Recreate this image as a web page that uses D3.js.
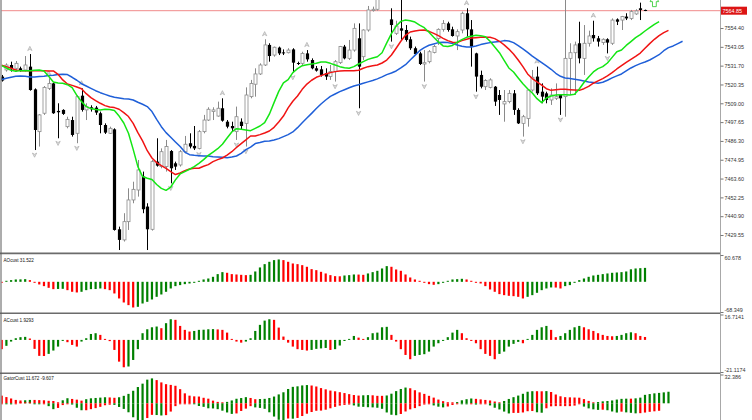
<!DOCTYPE html>
<html><head><meta charset="utf-8">
<script src="https://cdn.jsdelivr.net/npm/d3@7"></script>
<style>html,body{margin:0;padding:0;background:#fff}svg{display:block}</style>
</head><body>
<svg id="chart" width="752" height="420"></svg>
<script>
// ---------- DATA ----------
const opens=[7525.1,7529.1,7532.1,7530.1,7530.1,7529.1,7531.1,7517.4,7491.9,7503.0,
 7518.0,7521.0,7504.4,7505.0,7494.9,7498.9,7490.9,7513.6,7505.0,7506.6,
 7506.4,7503.0,7495.9,7490.9,7493.3,7433.0,7426.6,7437.6,7450.7,7456.7,
 7464.8,7446.7,7433.0,7473.8,7470.8,7470.8,7480.2,7472.8,7471.8,7479.8,
 7484.9,7483.3,7481.8,7491.9,7498.9,7504.0,7501.3,7506.0,7497.9,7495.3,
 7491.9,7497.9,7496.9,7513.0,7520.5,7526.7,7532.1,7544.2,7538.1,7542.6,
 7539.7,7539.5,7541.5,7533.3,7533.1,7539.1,7535.1,7530.1,7529.5,7527.1,
 7525.1,7528.1,7533.5,7543.2,7536.1,7541.1,7548.2,7537.1,7553.2,7564.9,
 7565.7,7572.0,7579.0,7559.6,7551.2,7554.2,7553.2,7547.6,7542.2,7539.1,
 7532.7,7534.1,7539.7,7548.0,7553.6,7557.2,7553.6,7549.6,7553.2,7563.3,
 7553.6,7539.1,7526.1,7519.0,7518.6,7519.0,7514.0,7508.6,7510.0,7515.0,
 7505.0,7496.9,7499.9,7517.0,7525.1,7516.0,7515.0,7511.0,7512.0,7514.0,
 7513.0,7536.1,7539.5,7545.2,7536.1,7545.2,7550.2,7548.2,7545.6,7547.6,
 7545.2,7559.6,7559.2,7561.3,7560.2,7562.9,7566.3,7565.3];
const highs=[7526.1,7533.1,7534.1,7534.5,7531.1,7537.5,7538.7,7518.0,7502.5,7519.4,
 7524.1,7521.4,7509.0,7505.4,7500.9,7500.9,7514.0,7518.0,7509.0,7507.8,
 7507.4,7504.0,7496.9,7494.9,7493.9,7434.6,7442.7,7457.7,7461.7,7474.8,
 7467.8,7448.7,7474.8,7487.9,7481.8,7486.9,7480.8,7473.8,7480.8,7489.3,
 7490.9,7495.3,7492.9,7502.0,7506.6,7506.6,7510.0,7512.0,7498.9,7497.9,
 7507.0,7499.9,7518.6,7523.1,7530.1,7533.1,7547.6,7545.2,7543.2,7543.2,
 7541.5,7542.2,7542.2,7534.1,7540.1,7541.1,7536.1,7531.5,7531.5,7530.1,
 7532.1,7535.1,7543.6,7544.2,7547.2,7557.2,7557.2,7553.6,7567.7,7567.3,
 7574.3,7582.0,7583.0,7566.3,7558.8,7576.0,7556.2,7549.2,7543.2,7540.1,
 7541.1,7541.1,7544.2,7554.2,7559.2,7558.2,7555.2,7553.6,7564.3,7566.3,
 7559.2,7539.5,7528.7,7523.5,7524.1,7519.4,7517.0,7517.0,7517.0,7517.0,
 7506.0,7502.0,7517.4,7529.1,7531.1,7521.0,7516.0,7518.0,7521.0,7514.4,
 7575.0,7545.2,7546.2,7558.2,7556.2,7552.8,7558.8,7549.6,7548.2,7548.2,
 7560.2,7560.2,7561.7,7563.3,7565.3,7565.7,7569.7,7565.5];
const lows=[7522.1,7528.1,7528.1,7528.1,7528.1,7528.1,7516.6,7480.8,7482.9,7502.0,
 7517.0,7502.6,7487.9,7502.0,7493.9,7488.9,7484.9,7504.0,7498.9,7504.0,
 7502.0,7490.9,7490.5,7490.5,7432.2,7420.5,7425.6,7432.6,7448.7,7452.7,
 7442.7,7420.5,7432.2,7470.8,7469.8,7467.8,7460.7,7468.8,7470.8,7478.8,
 7481.8,7480.8,7481.2,7490.9,7498.3,7498.9,7500.9,7497.9,7493.9,7491.9,
 7486.9,7492.9,7482.9,7512.0,7513.0,7526.1,7531.5,7534.1,7537.1,7538.1,
 7538.1,7539.1,7527.5,7532.1,7532.1,7534.1,7529.5,7528.1,7525.1,7523.1,
 7523.1,7522.1,7532.7,7535.5,7535.1,7540.1,7506.0,7535.1,7552.2,7564.3,
 7564.9,7571.5,7572.0,7546.2,7550.2,7547.2,7546.2,7541.2,7538.1,7532.1,
 7522.1,7533.1,7539.1,7544.2,7552.2,7552.2,7549.2,7541.1,7551.2,7549.2,
 7531.1,7516.0,7518.0,7517.0,7518.0,7507.4,7502.0,7497.9,7509.0,7502.0,
 7496.5,7488.9,7494.9,7516.0,7514.0,7509.0,7509.0,7508.0,7511.0,7502.0,
 7500.9,7514.0,7514.0,7533.1,7526.1,7543.2,7546.2,7543.2,7544.2,7539.1,
 7544.2,7556.2,7553.2,7559.2,7559.2,7562.3,7559.2,7564.6];
const closes=[7522.7,7532.1,7530.1,7533.1,7528.7,7532.1,7517.0,7492.9,7502.0,7518.6,
 7521.0,7503.0,7503.6,7502.6,7499.3,7489.9,7513.0,7505.0,7507.0,7505.4,
 7503.4,7495.9,7491.3,7493.9,7432.6,7426.6,7437.6,7450.7,7457.1,7468.8,
 7445.1,7433.0,7473.8,7471.4,7479.8,7482.9,7469.8,7470.8,7479.8,7484.3,
 7482.9,7481.8,7491.9,7498.9,7505.4,7505.0,7506.0,7498.5,7494.9,7493.9,
 7500.9,7495.3,7514.0,7521.0,7526.7,7532.1,7544.2,7537.5,7542.8,7539.1,
 7539.3,7541.1,7533.5,7532.9,7539.1,7535.5,7530.1,7528.7,7526.1,7525.1,
 7528.1,7534.1,7543.2,7536.1,7541.1,7554.2,7531.1,7553.2,7565.3,7565.7,
 7572.0,7579.0,7574.0,7556.2,7555.6,7552.8,7547.2,7542.2,7538.7,7532.7,
 7533.5,7540.1,7543.2,7553.6,7557.2,7553.2,7549.6,7552.2,7563.3,7553.6,
 7543.2,7525.1,7519.0,7522.7,7523.1,7510.0,7511.0,7510.0,7515.0,7505.0,
 7496.9,7500.9,7517.0,7524.7,7515.0,7513.0,7511.0,7514.0,7513.0,7512.0,
 7536.1,7539.5,7544.2,7536.1,7545.2,7549.6,7548.2,7546.2,7547.6,7545.6,
 7559.2,7558.2,7561.3,7560.2,7564.3,7564.7,7565.3,7564.85];

// Alligator lines (jaw runs 8 bars ahead, teeth 5, lips 3)
const jaw=[7523.3,7524.1,7524.7,7525.3,7525.5,7525.3,7524.9,7524.9,7525.1,7525.3,
 7525.7,7525.9,7526.3,7526.5,7526.3,7524.7,7522.9,7520.8,7519.4,7518.0,
 7516.6,7515.4,7514.4,7513.4,7512.6,7512.2,7511.8,7511.6,7511.0,7509.6,
 7508.4,7507.0,7504.0,7499.3,7494.9,7491.3,7488.5,7485.7,7482.9,7479.6,
 7478.0,7477.6,7477.4,7477.2,7477.2,7476.8,7476.6,7476.4,7476.2,7476.6,
 7477.2,7478.8,7481.0,7482.6,7484.7,7485.3,7486.1,7486.3,7486.9,7487.7,
 7488.9,7490.1,7491.7,7494.3,7497.3,7500.1,7502.9,7505.8,7508.6,7511.0,
 7513.2,7514.6,7516.0,7517.2,7518.4,7519.4,7520.2,7521.1,7521.9,7522.7,
 7523.7,7524.9,7526.3,7527.3,7528.5,7530.3,7532.3,7535.1,7537.9,7540.7,
 7542.6,7544.0,7544.8,7545.6,7545.8,7545.6,7545.0,7544.2,7543.4,7543.0,
 7543.0,7543.6,7544.4,7545.0,7545.6,7546.0,7546.2,7546.8,7546.6,7545.6,
 7543.8,7541.8,7539.7,7537.5,7535.5,7533.5,7531.5,7529.5,7527.1,7525.3,
 7524.3,7523.9,7523.5,7523.1,7522.5,7521.9,7521.5,7521.1,7521.7,7522.9,
 7524.3,7525.5,7526.7,7528.5,7530.3,7531.7,7532.9,7533.9,7535.1,7536.7,
 7538.3,7540.7,7542.6,7543.6,7545.0,7546.4];
const teeth=[7531.9,7531.1,7530.1,7529.1,7528.7,7528.7,7528.7,7528.7,7528.7,7528.7,
 7528.5,7528.5,7526.5,7523.1,7520.6,7519.8,7518.8,7517.8,7514.8,7512.4,
 7510.6,7509.0,7507.6,7506.8,7506.4,7505.4,7503.4,7501.0,7496.9,7491.3,
 7486.3,7480.4,7476.0,7473.2,7471.4,7469.8,7467.8,7466.0,7467.0,7468.4,
 7469.4,7469.8,7469.8,7471.0,7472.0,7473.8,7475.0,7476.0,7477.8,7479.8,
 7482.3,7484.7,7486.9,7489.3,7489.3,7490.1,7491.1,7492.3,7494.5,7497.7,
 7501.3,7506.2,7510.2,7513.4,7517.4,7520.6,7522.9,7524.7,7525.7,7526.7,
 7527.5,7528.1,7528.5,7528.7,7528.7,7528.7,7528.9,7530.1,7531.1,7531.7,
 7532.1,7533.3,7535.1,7538.1,7542.2,7546.4,7550.0,7552.0,7552.6,7553.0,
 7553.2,7552.4,7551.2,7549.8,7548.2,7546.8,7545.8,7545.6,7546.8,7547.6,
 7548.4,7548.6,7548.8,7548.8,7548.8,7548.0,7546.4,7544.2,7541.7,7538.7,
 7535.1,7531.1,7526.7,7523.9,7521.9,7520.0,7517.8,7516.8,7517.2,7517.4,
 7517.4,7517.2,7517.0,7516.8,7517.8,7519.2,7521.1,7522.5,7523.9,7525.5,
 7527.5,7529.7,7531.7,7533.7,7535.5,7537.3,7539.3,7542.2,7545.0,7547.6,
 7549.8,7551.6,7553.0];
const lips=[7531.7,7530.3,7528.9,7528.3,7528.7,7528.7,7528.7,7528.9,7529.1,7528.5,
 7525.3,7521.9,7521.3,7521.1,7520.2,7518.4,7513.8,7510.0,7507.0,7505.8,
 7505.2,7505.0,7505.4,7505.2,7504.6,7501.3,7497.1,7490.9,7481.2,7470.8,
 7464.8,7463.8,7463.0,7460.0,7457.7,7456.5,7458.5,7462.8,7466.4,7467.8,
 7469.2,7470.8,7472.8,7475.0,7477.6,7479.6,7481.6,7484.3,7488.1,7491.7,
 7493.7,7493.3,7492.9,7492.5,7493.9,7495.3,7497.3,7502.4,7509.4,7516.2,
 7521.3,7523.3,7527.5,7529.9,7531.7,7532.3,7532.7,7533.1,7533.9,7533.9,
 7533.1,7532.1,7531.1,7530.5,7530.1,7531.1,7532.7,7534.1,7535.5,7536.3,
 7537.1,7539.5,7545.4,7551.0,7555.6,7558.4,7559.2,7558.8,7558.0,7556.2,
 7554.6,7551.8,7548.8,7546.0,7543.6,7543.2,7543.9,7545.8,7547.4,7548.8,
 7549.4,7550.0,7549.8,7549.2,7546.4,7543.0,7539.5,7534.9,7530.3,7527.9,
 7524.3,7520.8,7517.8,7515.2,7511.8,7509.4,7512.2,7513.4,7514.0,7514.2,
 7514.2,7514.0,7514.4,7517.6,7521.5,7524.9,7527.9,7529.9,7531.1,7533.3,
 7536.7,7540.1,7541.1,7543.9,7546.2,7548.6,7550.4,7552.6,7554.6,7556.6,
 7558.2];

const aoValues=[-0.4,0.8,3.8,5.3,5.5,6.0,3.8,-1.5,-6.0,-9.8,
 -13.6,-16.6,-16.2,-15.9,-18.9,-22.6,-24.1,-22.6,-18.9,-16.6,
 -16.4,-15.1,-16.6,-18.9,-26.4,-37.7,-46.8,-52.8,-58.1,-56.6,
 -49.1,-45.3,-40.0,-34.0,-28.7,-22.6,-15.1,-9.8,-7.5,-5.3,
 -3.8,-2.3,1.5,5.3,7.5,11.3,17.4,21.9,20.4,17.4,
 16.6,15.8,15.1,15.8,23.4,32.5,40.0,45.3,49.1,50.6,
 49.1,45.3,41.5,40.0,37.7,34.0,28.7,26.4,22.6,18.9,
 15.1,12.8,12.5,14.3,15.1,16.6,16.4,15.8,18.9,21.9,
 24.9,30.2,35.5,34.0,27.9,24.9,16.6,9.8,5.3,2.3,
 -1.5,-5.3,-6.8,-5.3,-2.3,1.5,5.3,6.0,6.8,5.3,
 2.3,-1.5,-3.8,-9.8,-17.4,-22.6,-27.9,-30.2,-31.7,-32.5,
 -34.0,-37.7,-34.0,-30.2,-24.9,-18.9,-15.1,-12.8,-13.0,-15.1,
 -9.8,-7.5,-2.3,3.8,7.5,11.3,14.3,15.8,17.4,18.9,
 20.4,21.1,21.9,23.4,28.3,30.2,30.9,31.522];
const acValues=[-6.1,-3.9,-1.1,1.1,1.8,2.0,0.9,-5.9,-10.5,-10.6,
 -9.2,-7.0,-4.4,-0.3,-1.5,-3.3,-4.4,-1.1,1.1,3.9,
 4.4,3.3,0.4,-0.8,-6.6,-14.3,-18.0,-17.5,-13.2,-6.1,
 4.4,7.0,8.3,8.8,7.7,11.0,13.6,13.2,9.2,6.6,
 5.5,5.9,6.6,6.7,7.0,7.1,6.9,6.6,4.8,0.4,
 -1.1,-1.8,-1.1,1.1,5.9,9.9,12.7,13.6,13.2,8.1,
 2.2,-1.8,-4.4,-6.1,-6.6,-7.0,-6.6,-5.9,-5.6,-5.3,
 -6.6,-6.1,-3.7,-0.7,0.4,2.6,1.5,0.4,1.8,4.4,
 4.8,8.3,8.6,3.3,-1.1,-6.1,-9.9,-12.7,-10.5,-9.9,
 -9.4,-7.7,-4.4,-2.2,-0.4,1.8,4.8,6.6,4.4,1.1,
 -0.4,-2.2,-6.1,-9.2,-10.5,-12.7,-9.2,-7.7,-4.4,-2.6,
 -1.3,-2.2,0.4,3.3,6.6,8.3,9.2,6.6,1.8,2.6,
 4.4,6.6,8.3,9.2,8.3,7.0,5.9,4.4,3.3,2.6,
 2.4,2.6,3.3,4.4,5.0,4.4,2.6,1.9293];
const gatorUpper=[8.6,7.0,5.4,3.8,3.2,3.4,3.8,3.8,3.6,3.4,
 2.8,2.6,0.2,3.4,5.7,4.9,4.1,3.0,4.6,5.6,
 6.0,6.4,6.8,6.6,6.2,6.8,8.4,10.6,14.1,18.3,
 22.1,26.6,28.0,26.1,23.5,21.5,20.7,19.7,15.9,11.2,
 8.6,7.8,7.6,6.2,5.2,3.0,1.6,0.4,1.6,3.2,
 5.1,5.9,6.9,6.0,4.6,4.8,5.0,6.0,7.6,10.0,
 12.4,16.1,18.5,19.1,20.1,20.5,20.0,18.9,17.1,15.7,
 14.3,13.5,12.5,11.5,10.3,9.3,8.7,9.0,9.2,9.0,
 8.4,8.4,8.8,10.8,13.7,16.1,17.7,16.9,14.7,12.3,
 10.6,8.4,6.4,4.2,2.4,1.2,0.8,1.4,3.4,4.6,
 5.4,5.0,4.4,3.8,3.2,2.0,0.2,2.6,4.9,6.9,
 8.7,10.7,13.0,13.6,13.6,13.5,13.7,12.7,9.9,7.9,
 6.9,6.7,6.5,6.3,4.7,2.7,0.4,1.4,2.2,2.6,
 3.2,4.2,5.0,5.2,5.2,5.6,6.4,9.5,10.4,11.2,
 11.7,12.3,13.0];
const gatorLower=[0.2,0.8,1.2,0.8,0.0,0.0,0.0,0.2,0.4,0.2,
 3.2,6.6,5.2,2.0,0.4,1.4,5.0,7.8,7.8,6.6,
 5.4,4.0,2.2,1.6,1.8,4.1,6.3,10.1,15.7,20.5,
 21.5,16.6,13.0,13.2,13.7,13.3,9.3,3.2,0.6,0.6,
 0.2,1.0,3.0,4.0,5.6,5.8,6.6,8.3,10.3,11.9,
 11.4,8.6,6.0,3.2,4.6,5.2,6.2,10.1,14.9,18.5,
 20.0,17.1,17.3,16.5,14.3,11.7,9.8,8.4,8.2,7.2,
 5.6,4.0,2.6,1.8,1.4,2.4,3.8,4.0,4.4,4.6,
 5.0,6.2,10.3,12.9,13.4,12.0,9.2,6.8,5.4,3.2,
 1.4,0.6,2.4,3.8,4.6,3.6,1.9,0.2,0.6,1.2,
 1.0,1.4,1.0,0.4,2.4,5.0,6.9,9.3,11.4,10.8,
 10.8,10.3,8.9,8.7,10.1,10.6,5.6,3.4,3.2,3.2,
 3.2,3.2,2.6,0.8,3.7,5.7,6.8,7.4,7.2,7.8,
 9.2,10.4,9.4,10.2,10.7,11.3,11.1,10.4,9.6,9.0,
 8.4];

const fractalUp=[6,10,17,47,56,65,99,114,126];
const fractalDown=[7,12,16,36,42,50,52,62,71,76,83,90,101,111,119,129];
const priceTicks=[7554.40,7543.05,7531.70,7520.35,7509.00,7497.65,7486.30,7474.95,7463.60,7452.25,7440.90,7429.55];
const currentPrice=7564.85;
const buySignal={index:139, price:7567.3};
const aoRange=[-68.349,60.678], acRange=[-21.1174,16.7141], gatorTop=32.386;
const labels={ao:"AOcust 31.522", ac:"ACcust 1.9293", gator:"GatorCust 11.672 -9.607"};

// ---------- LAYOUT ----------
const svg=d3.select("#chart");
const plotL=1, plotR=720.5;
const FONT="Liberation Sans, Arial, sans-serif";
const GREEN="#008000", RED="#ff0000";

const x=d3.scaleLinear().domain([0,closes.length-1]).range([1.7,645]);
const yMain=d3.scaleLinear().domain([7418.7,7571.3]).range([253,0]);
const yAO=d3.scaleLinear().domain(aoRange).range([312,255]);
const yAC=d3.scaleLinear().domain(acRange).range([372,314.5]);
const yG=d3.scaleLinear().domain([0,gatorTop]).range([403.3,374.5]);

svg.append("rect").attr("width",752).attr("height",420).attr("fill","#fff");
const defs=svg.append("defs");
function clip(id,top,bottom){
  defs.append("clipPath").attr("id",id).append("rect")
    .attr("x",plotL+0.5).attr("y",top).attr("width",plotR-plotL-1).attr("height",bottom-top);
  return svg.append("g").attr("clip-path",`url(#${id})`);
}
const gMain=clip("cMain",0,252.6);
const gAO=clip("cAO",254.2,312.6);
const gAC=clip("cAC",314.2,372.6);
const gG=clip("cG",374.2,420);

// current price line
gMain.append("line").attr("x1",plotL).attr("x2",plotR)
  .attr("y1",yMain(currentPrice)).attr("y2",yMain(currentPrice))
  .attr("stroke","#f08a8a").attr("stroke-width",1);

// candles
const idx=d3.range(closes.length);
const cg=gMain.append("g");
idx.forEach(i=>{
  const cx=Math.round(x(i))+0.5, bull=closes[i]>=opens[i];
  cg.append("line").attr("x1",cx).attr("x2",cx)
    .attr("y1",yMain(highs[i])).attr("y2",yMain(lows[i]))
    .attr("stroke",bull?"#8a8a8a":"#000").attr("stroke-width",1);
  const yt=yMain(Math.max(opens[i],closes[i])), yb=yMain(Math.min(opens[i],closes[i]));
  const h=Math.max(1,yb-yt);
  if(bull){
    cg.append("rect").attr("x",cx-1.5).attr("y",yt).attr("width",3).attr("height",h)
      .attr("fill","#fff").attr("stroke","#8a8a8a").attr("stroke-width",0.8);
  } else {
    cg.append("rect").attr("x",cx-1.6).attr("y",yt).attr("width",3.2).attr("height",h).attr("fill","#000");
  }
});

// fractals
const fg=gMain.append("g");
fractalUp.forEach(i=>{
  const cx=x(i), cy=yMain(highs[i])-5.5;
  fg.append("path").attr("d",`M${cx-2.2},${cy+2} L${cx},${cy-2.2} L${cx+2.2},${cy+2} L${cx},${cy+0.8} Z`)
    .attr("fill","#dedede").attr("stroke","#a4a4a4").attr("stroke-width",0.6);
});
fractalDown.forEach(i=>{
  const cx=x(i), cy=yMain(lows[i])+5;
  fg.append("path").attr("d",`M${cx-2.2},${cy-2} L${cx},${cy+2.2} L${cx+2.2},${cy-2} L${cx},${cy-0.8} Z`)
    .attr("fill","#dedede").attr("stroke","#a4a4a4").attr("stroke-width",0.6);
});

// alligator
const line=d3.line().x((d,i)=>x(i)).y(d=>yMain(d));
[[jaw,"#1f5fd8"],[teeth,"#f01414"],[lips,"#14e614"]].forEach(([arr,col])=>{
  gMain.append("path").datum(arr).attr("d",line).attr("fill","none")
    .attr("stroke",col).attr("stroke-width",1.5).attr("stroke-linejoin","round");
});

// buy signal arrow (outlined)
{
  const ax=x(buySignal.index), ay=yMain(buySignal.price);
  svg.append("path")
    .attr("d",`M${ax},${ay-13} L${ax+4.3},${ay-5} L${ax+1.9},${ay-5} L${ax+1.9},${ay} L${ax-1.9},${ay} L${ax-1.9},${ay-5} L${ax-4.3},${ay-5} Z`)
    .attr("fill","#fff").attr("stroke","#3ccf3c").attr("stroke-width",0.9);
}

// histograms
function hist(g,vals,y,colorFn,sign){
  const y0=y(0);
  vals.forEach((v,i)=>{
    const yv=y(sign*v);
    const top=Math.min(y0,yv), h=Math.max(1,Math.abs(yv-y0));
    g.append("rect").attr("x",x(i)-1.1).attr("width",2.2)
      .attr("y",(sign*v>=0)?Math.min(top,y0-1):top).attr("height",h)
      .attr("fill",colorFn(v,i));
  });
}
const upDown=arr=>(v,i)=>(i>0&&v>arr[i-1])?GREEN:RED;
hist(gAO,aoValues,yAO,upDown(aoValues),1);
hist(gAC,acValues,yAC,upDown(acValues),1);
hist(gG,gatorUpper,yG,upDown(gatorUpper),1);
hist(gG,gatorLower,yG,upDown(gatorLower),-1);

// separators and borders
[253.4,313.3,373.3].forEach(yy=>{
  svg.append("line").attr("x1",0).attr("x2",plotR).attr("y1",yy).attr("y2",yy)
    .attr("stroke","#6b6b6b").attr("stroke-width",1.6);
});
svg.append("line").attr("x1",1).attr("x2",1).attr("y1",0).attr("y2",420).attr("stroke","#5a5a5a").attr("stroke-width",1);
svg.append("line").attr("x1",plotR).attr("x2",plotR).attr("y1",0).attr("y2",420).attr("stroke","#a8a8a8").attr("stroke-width",1);

// axes
function styleAxis(g){
  g.select(".domain").remove();
  g.selectAll(".tick line").attr("stroke","#777");
  g.selectAll(".tick text").attr("x",4).attr("fill","#333")
    .style("font-family",FONT).style("font-size","5.4px");
}
svg.append("g").attr("transform",`translate(${plotR},0)`)
  .call(d3.axisRight(yMain).tickValues(priceTicks).tickFormat(d3.format(".2f")).tickSize(3))
  .call(styleAxis);

function subAxis(scale,vals){
  const g=svg.append("g").attr("transform",`translate(${plotR},0)`)
    .call(d3.axisRight(scale).tickValues(vals).tickFormat(d=>String(d)).tickSize(3))
    .call(styleAxis);
  g.selectAll(".tick text").attr("dy",(d,i)=>i===0?"0.78em":"-0.18em");
}
subAxis(yAO,[aoRange[1],aoRange[0]]);
subAxis(yAC,[acRange[1],acRange[0]]);
subAxis(yG,[gatorTop]);

// current price label
{
  const yy=yMain(currentPrice);
  svg.append("rect").attr("x",721).attr("y",yy-4).attr("width",26).attr("height",8).attr("fill","#dc1414");
  svg.append("text").attr("x",722.5).attr("y",yy).attr("dy","0.35em").text(d3.format(".2f")(currentPrice))
    .attr("fill","#fff").style("font-family",FONT).style("font-size","5.4px");
}

// panel labels
[[labels.ao,262],[labels.ac,322],[labels.gator,380]].forEach(([t,yy])=>{
  svg.append("text").attr("x",3.5).attr("y",yy).text(t).attr("fill","#111")
    .style("font-family",FONT).style("font-size","4.6px");
});
</script>
</body></html>
